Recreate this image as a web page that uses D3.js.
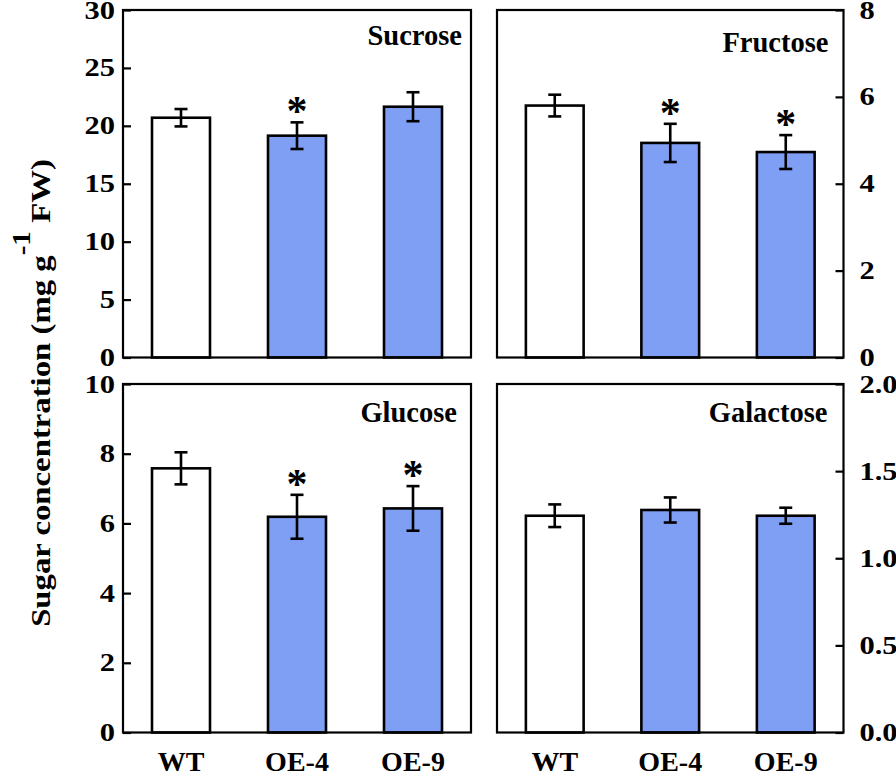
<!DOCTYPE html>
<html><head><meta charset="utf-8">
<script src="https://cdn.jsdelivr.net/npm/d3@7"></script>
<style>
html,body{margin:0;padding:0;background:#fff;}
svg{display:block;}
text{font-family:"Liberation Serif","Times New Roman",serif;font-weight:bold;fill:#000;}
</style></head>
<body>
<svg id="chart" width="896" height="776"></svg>
<script>
const categories = ["WT", "OE-4", "OE-9"];
const panelNames = ["Sucrose", "Fructose", "Glucose", "Galactose"];
const sucroseMean = [20.7, 19.15, 21.65];
const sucroseErr = [0.75, 1.15, 1.25];
const fructoseMean = [5.80, 4.94, 4.73];
const fructoseErr = [0.25, 0.44, 0.39];
const glucoseMean = [7.58, 6.19, 6.43];
const glucoseErr = [0.46, 0.63, 0.64];
const galactoseMean = [1.244, 1.277, 1.244];
const galactoseErr = [0.065, 0.072, 0.046];
const sucroseSig = [false, true, false];
const fructoseSig = [false, true, true];
const glucoseSig = [false, true, true];
const galactoseSig = [false, false, false];
const sucroseTicks = [0, 5, 10, 15, 20, 25, 30];
const fructoseTicks = [0, 2, 4, 6, 8];
const glucoseTicks = [0, 2, 4, 6, 8, 10];
const galactoseTicks = [0, 0.5, 1.0, 1.5, 2.0];
const yLabelMain = "Sugar concentration (mg g";
const yLabelSup = "-1";
const yLabelEnd = " FW)";

// layout (positions / styles)
const colX = [[123, 471], [497, 843.5]];
const rowY = [[10, 357.5], [384, 732.5]];
const titleLayout = [{dx: 9, dy: 35}, {dx: 15, dy: 42}, {dx: 14, dy: 38}, {dx: 16, dy: 38}];
const barFill = ["#ffffff", "#7f9ff5", "#7f9ff5"];
const tickStretch = 1.22;

const panels = [
  {name: panelNames[0], mean: sucroseMean, err: sucroseErr, sig: sucroseSig, ticks: sucroseTicks, fmt: d3.format("d"), col: 0, row: 0},
  {name: panelNames[1], mean: fructoseMean, err: fructoseErr, sig: fructoseSig, ticks: fructoseTicks, fmt: d3.format("d"), col: 1, row: 0},
  {name: panelNames[2], mean: glucoseMean, err: glucoseErr, sig: glucoseSig, ticks: glucoseTicks, fmt: d3.format("d"), col: 0, row: 1},
  {name: panelNames[3], mean: galactoseMean, err: galactoseErr, sig: galactoseSig, ticks: galactoseTicks, fmt: d3.format(".1f"), col: 1, row: 1}
];

const svg = d3.select("#chart");

panels.forEach((p, pi) => {
  const [x0, x1] = colX[p.col];
  const [y0, y1] = rowY[p.row];
  const x = d3.scaleBand().domain(categories).range([x0, x1]).paddingInner(0.5).paddingOuter(0.25);
  const y = d3.scaleLinear().domain([0, d3.max(p.ticks)]).range([y1, y0]);
  const g = svg.append("g");
  const cx = d => x(d) + x.bandwidth() / 2;

  // bars
  g.selectAll("rect.bar").data(categories).join("rect")
    .attr("class", "bar")
    .attr("x", d => x(d))
    .attr("width", x.bandwidth())
    .attr("y", (d, i) => y(p.mean[i]))
    .attr("height", (d, i) => y(0) - y(p.mean[i]))
    .attr("fill", (d, i) => barFill[i])
    .attr("stroke", "#000").attr("stroke-width", 2.6);

  // error bars
  const cap = 6.5;
  const eb = g.selectAll("g.eb").data(categories).join("g").attr("class", "eb");
  eb.append("line")
    .attr("x1", cx).attr("x2", cx)
    .attr("y1", (d, i) => y(p.mean[i] + p.err[i])).attr("y2", (d, i) => y(p.mean[i] - p.err[i]))
    .attr("stroke", "#000").attr("stroke-width", 2.6);
  eb.append("line")
    .attr("x1", d => cx(d) - cap).attr("x2", d => cx(d) + cap)
    .attr("y1", (d, i) => y(p.mean[i] + p.err[i])).attr("y2", (d, i) => y(p.mean[i] + p.err[i]))
    .attr("stroke", "#000").attr("stroke-width", 2.6);
  eb.append("line")
    .attr("x1", d => cx(d) - cap).attr("x2", d => cx(d) + cap)
    .attr("y1", (d, i) => y(p.mean[i] - p.err[i])).attr("y2", (d, i) => y(p.mean[i] - p.err[i]))
    .attr("stroke", "#000").attr("stroke-width", 2.6);

  // asterisks
  g.selectAll("text.star").data(categories.filter((d, i) => p.sig[i])).join("text")
    .attr("class", "star")
    .attr("text-anchor", "middle")
    .attr("font-size", 42)
    .attr("x", cx)
    .attr("y", d => { const i = categories.indexOf(d); return y(p.mean[i] + p.err[i]) + 3; })
    .text("*");

  // frame
  g.append("rect").attr("x", x0).attr("y", y0).attr("width", x1 - x0).attr("height", y1 - y0)
    .attr("fill", "none").attr("stroke", "#000").attr("stroke-width", 2.2);

  // y axis
  const left = p.col === 0;
  const axis = (left ? d3.axisLeft(y) : d3.axisRight(y))
    .tickValues(p.ticks).tickFormat(p.fmt).tickSizeInner(-8).tickSizeOuter(0).tickPadding(0);
  const ag = g.append("g").attr("transform", `translate(${left ? x0 : x1},0)`).call(axis);
  ag.select(".domain").remove();
  ag.selectAll(".tick line").attr("stroke", "#000").attr("stroke-width", 2.2);
  ag.selectAll(".tick text")
    .attr("x", 0)
    .attr("transform", `translate(${left ? -8 : 16},0) scale(${tickStretch},1)`)
    .attr("font-size", 25).attr("fill", "#000")
    .style("font-family", '"Liberation Serif","Times New Roman",serif').style("font-weight", "bold");

  // panel title
  const tl = titleLayout[pi];
  g.append("text").attr("x", x1 - tl.dx).attr("y", y0 + tl.dy).attr("text-anchor", "end")
    .attr("font-size", 28.5).text(p.name);

  // x labels
  if (p.row === 1) {
    g.selectAll("text.xl").data(categories).join("text").attr("class", "xl")
      .attr("x", cx).attr("y", 771)
      .attr("text-anchor", "middle").attr("font-size", 28).text(d => d);
  }
});

// y title
const yt = svg.append("text").attr("transform", "translate(50,393) rotate(-90) scale(1.17,1)")
  .attr("text-anchor", "middle").attr("font-size", 28);
yt.append("tspan").text(yLabelMain);
yt.append("tspan").attr("dy", -20).attr("font-size", 25).text(yLabelSup);
yt.append("tspan").attr("dy", 20).text(yLabelEnd);
</script>
</body></html>
